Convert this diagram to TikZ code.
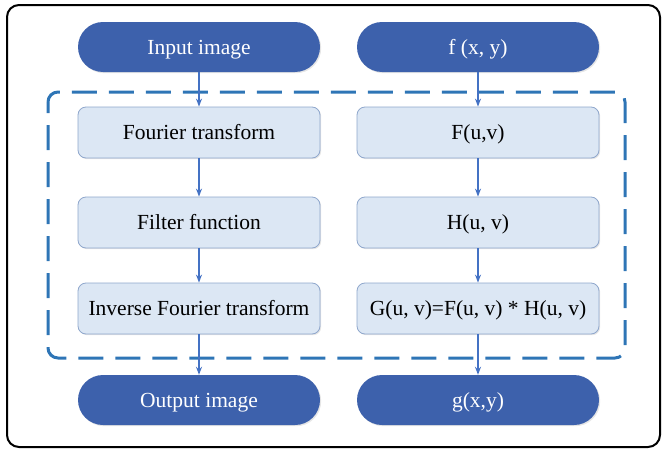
\documentclass[tikz,border=0pt]{standalone}
\usepackage{fontspec}
\setmainfont{Liberation Serif}
\usetikzlibrary{shadows,arrows.meta}
\definecolor{pillblue}{HTML}{3D61AC}
\definecolor{boxfill}{HTML}{DCE7F4}
\definecolor{boxline}{HTML}{8FA7CC}
\definecolor{arrowblue}{HTML}{4472C4}
\definecolor{dashblue}{HTML}{2E75B6}
\tikzset{
  label text/.style={font=\fontsize{21.5}{25}\selectfont, text height=14pt, text depth=0pt},
  pill/.style={label text, rectangle, rounded corners=25pt, fill=pillblue, text=white,
    minimum width=242pt, minimum height=50pt, inner sep=0pt,
    drop shadow={opacity=0.2, shadow xshift=1.2pt, shadow yshift=-1.2pt}},
  stepbox/.style={label text, rectangle, rounded corners=8pt, fill=boxfill, draw=boxline, line width=0.8pt,
    minimum width=242pt, minimum height=51pt, inner sep=0pt,
    drop shadow={opacity=0.2, shadow xshift=1.2pt, shadow yshift=-1.2pt}},
  flow/.style={draw=arrowblue, line width=1.3pt, -{Stealth[length=8pt,width=6pt]}},
}
\begin{document}
\begin{tikzpicture}[x=1pt, y=-1pt]
  \useasboundingbox (0,0) rectangle (662,450);
  % outer frame
  \draw[line width=2pt, rounded corners=12pt] (7,5) rectangle (660,447);
  % processing region
  \draw[dashblue, line width=3pt, rounded corners=10pt, dash pattern=on 25pt off 12pt, dash phase=14pt]
    (48,92) rectangle (625,358);

  % left column
  \node[pill]    (in)   at (199,47)    {Input image};
  \node[stepbox] (ft)   at (199,132.5) {Fourier transform};
  \node[stepbox] (filt) at (199,222.5) {Filter function};
  \node[stepbox] (ift)  at (199,308.5) {Inverse Fourier transform};
  \node[pill]    (out)  at (199,400)   {Output image};

  % right column
  \node[pill]    (fxy)  at (478,47)    {f (x, y)};
  \node[stepbox] (Fuv)  at (478,132.5) {F(u,v)};
  \node[stepbox] (Huv)  at (478,222.5) {H(u, v)};
  \node[stepbox] (Guv)  at (478,308.5) {G(u, v)=F(u, v) * H(u, v)};
  \node[pill]    (gxy)  at (478,400)   {g(x,y)};

  % connectors
  \draw[flow] (in) -- (ft);
  \draw[flow] (ft) -- (filt);
  \draw[flow] (filt) -- (ift);
  \draw[flow] (ift) -- (out);
  \draw[flow] (fxy) -- (Fuv);
  \draw[flow] (Fuv) -- (Huv);
  \draw[flow] (Huv) -- (Guv);
  \draw[flow] (Guv) -- (gxy);
\end{tikzpicture}
\end{document}
